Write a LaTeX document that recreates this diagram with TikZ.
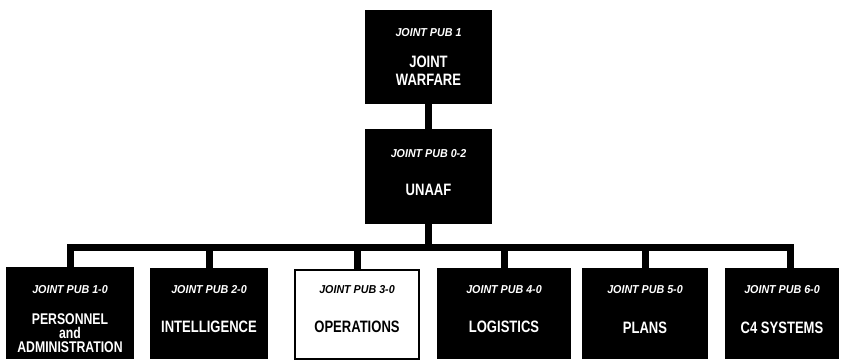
\documentclass[tikz,border=0pt]{standalone}
\usepackage{fontspec}
\newfontfamily\subfont[FakeStretch=0.93]{Liberation Sans}
\newfontfamily\mainfont[FakeStretch=0.79]{Liberation Sans}
\begin{document}
\begin{tikzpicture}[x=1pt,y=-1pt,
  box/.style={draw=black,fill=black,line width=1pt,inner sep=0pt,anchor=north west},
  wbox/.style={draw=black,fill=white,line width=2pt,inner sep=0pt,anchor=north west},
  subt/.style={anchor=base,inner sep=0pt,text=white,font=\subfont\bfseries\itshape\fontsize{11.5}{13}\selectfont},
  maint/.style={anchor=base,inner sep=0pt,text=white,align=center,font=\mainfont\bfseries\fontsize{16.5}{12.5}\selectfont},
  conn/.style={draw=black,line width=7pt,line join=miter}]
\useasboundingbox[fill=white] (0,0) rectangle (844,362);
% boxes
\node[box,minimum width=126pt,minimum height=93pt] (top) at (365,10) {};
\node[box,minimum width=126pt,minimum height=94pt] (una) at (365,129) {};
\node[box,minimum width=127pt,minimum height=91pt] (b1) at (6,267) {};
\node[box,minimum width=117pt,minimum height=90pt] (b2) at (150,268) {};
\node[wbox,minimum width=124pt,minimum height=89pt] (b3) at (294,269) {};
\node[box,minimum width=133pt,minimum height=90pt] (b4) at (437,268) {};
\node[box,minimum width=125pt,minimum height=90pt] (b5) at (582,268) {};
\node[box,minimum width=113pt,minimum height=90pt] (b6) at (725,268) {};
% connectors
\coordinate (bus) at (428,247);
\draw[conn] (top.south) -- (top.south |- una.north);
\draw[conn] (una.south) -- (una.south |- bus);
\draw[conn] (b1.north) -- (b1.north |- bus) -- ([xshift=8.5pt]b6.north |- bus) -- ([xshift=8.5pt]b6.north);
\draw[conn] (b2.north) -- (b2.north |- bus);
\draw[conn] (b3.north) -- (b3.north |- bus);
\draw[conn] (b4.north) -- (b4.north |- bus);
\draw[conn] (b5.north) -- (b5.north |- bus);
% texts
\node[subt] (t1) at ([yshift=-26pt]top.north) {JOINT PUB 1};
\node[maint] (t2) at ([yshift=-57pt]top.north) {JOINT};
\node[maint] (t3) at ([yshift=-75pt]top.north) {WARFARE};
\node[subt] (u1) at ([yshift=-28pt]una.north) {JOINT PUB 0-2};
\node[maint] (u2) at ([yshift=-66pt]una.north) {UNAAF};
\node[subt] (s1) at ([yshift=-26pt]b1.north) {JOINT PUB 1-0};
\node[maint,font=\mainfont\bfseries\fontsize{15.5}{12}\selectfont] (m1a) at ([yshift=-57pt]b1.north) {PERSONNEL};
\node[maint,font=\mainfont\bfseries\fontsize{15.5}{12}\selectfont] (m1b) at ([yshift=-71pt]b1.north) {and};
\node[maint,font=\mainfont\bfseries\fontsize{15.5}{12}\selectfont] (m1c) at ([yshift=-85pt]b1.north) {ADMINISTRATION};
\node[subt] (s2) at ([yshift=-25pt]b2.north) {JOINT PUB 2-0};
\node[maint] (m2) at ([yshift=-64pt]b2.north) {INTELLIGENCE};
\node[subt,text=black] (s3) at ([yshift=-24pt]b3.north) {JOINT PUB 3-0};
\node[maint,text=black] (m3) at ([yshift=-63pt]b3.north) {OPERATIONS};
\node[subt] (s4) at ([yshift=-25pt]b4.north) {JOINT PUB 4-0};
\node[maint] (m4) at ([yshift=-64pt]b4.north) {LOGISTICS};
\node[subt] (s5) at ([yshift=-25pt]b5.north) {JOINT PUB 5-0};
\node[maint] (m5) at ([yshift=-65pt]b5.north) {PLANS};
\node[subt] (s6) at ([yshift=-25pt]b6.north) {JOINT PUB 6-0};
\node[maint] (m6) at ([yshift=-65pt]b6.north) {C4 SYSTEMS};
\end{tikzpicture}
\end{document}
